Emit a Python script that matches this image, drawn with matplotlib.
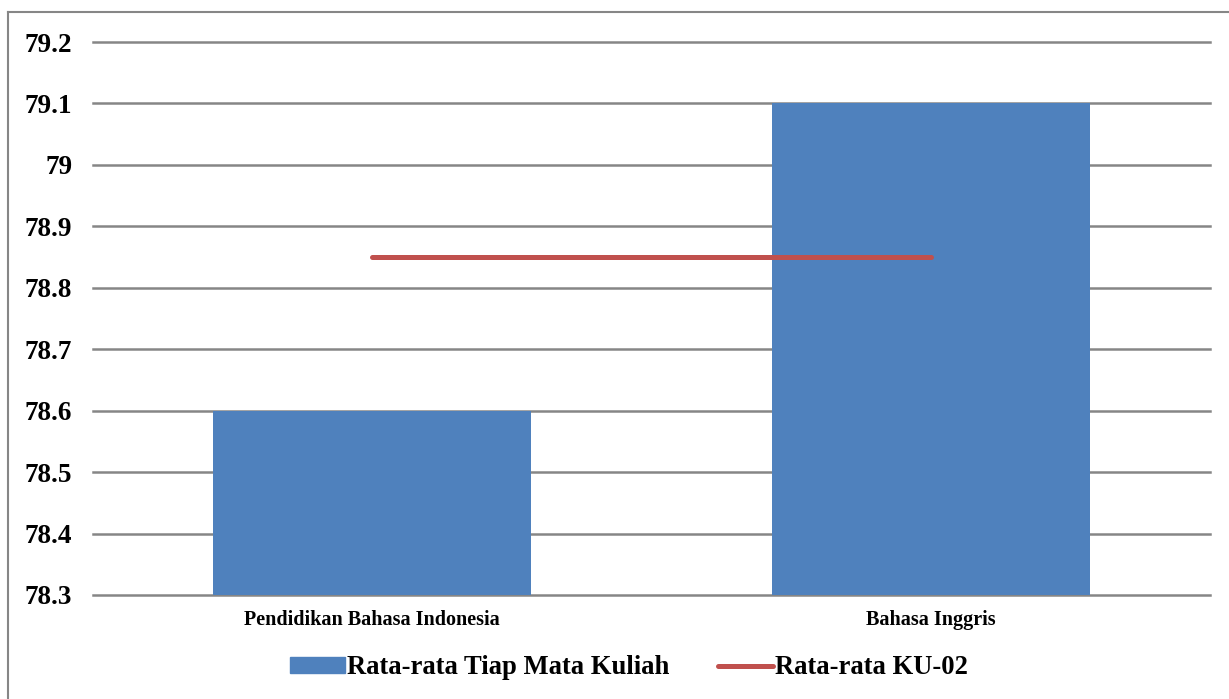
import matplotlib.pyplot as plt
import numpy as np
from matplotlib.lines import Line2D

plt.rcParams['font.family'] = 'Liberation Serif'
plt.rcParams['font.weight'] = 'bold'

categories = ['Pendidikan Bahasa Indonesia', 'Bahasa Inggris']
rata_mk = [78.6, 79.1]
rata_ku = [78.85, 78.85]
yticks = [78.3, 78.4, 78.5, 78.6, 78.7, 78.8, 78.9, 79, 79.1, 79.2]
ylabels = ['78.3', '78.4', '78.5', '78.6', '78.7', '78.8', '78.9', '79', '79.1', '79.2']

fig = plt.figure(figsize=(12.29, 6.99), dpi=100)
ax = fig.add_axes([93/1229, 1 - 595/699, (1210 - 93)/1229, (595 - 42)/699])

x = np.arange(len(categories))
ax.bar(x, np.array(rata_mk) - 78.3, bottom=78.3, width=0.57, color='#4F81BD', zorder=2,
       label='Rata-rata Tiap Mata Kuliah')
ax.plot(x, rata_ku, color='#C0504D', lw=3.6, solid_capstyle='round', zorder=3,
        label='Rata-rata KU-02')

ax.set_xlim(-0.5, 1.5)
ax.set_ylim(78.3, 79.2)
ax.set_yticks(yticks)
ax.set_yticklabels(ylabels, fontsize=19.5, fontweight='bold')
ax.set_xticks(x)
ax.set_xticklabels(categories, fontsize=14.5, fontweight='bold')
ax.tick_params(axis='both', length=0)
ax.tick_params(axis='y', pad=15)
ax.tick_params(axis='x', pad=11)
ax.yaxis.grid(True, color='#868686', lw=1.8, zorder=0)
for gl in ax.get_ygridlines():
    gl.set_clip_on(False)
for s in ax.spines.values():
    s.set_visible(False)

handles = [plt.Rectangle((0, 0), 1, 1, color='#4F81BD'),
           Line2D([0], [0], color='#C0504D', lw=3.6, solid_capstyle='round')]
fig.legend(handles, ['Rata-rata Tiap Mata Kuliah', 'Rata-rata KU-02'],
           loc='center', bbox_to_anchor=(629/1229, 1 - 668/699), ncol=2, frameon=False,
           prop={'size': 19.2, 'weight': 'bold'}, handlelength=2.06, handleheight=0.55,
           handletextpad=0.08, columnspacing=1.84)

# outer border of the chart area
fig.add_artist(Line2D([8/1229, 1], [1 - 12/699, 1 - 12/699], color='#868686', lw=1.5))
fig.add_artist(Line2D([8/1229, 8/1229], [0, 1 - 12/699], color='#868686', lw=1.5))

fig.savefig('out.png', dpi=100)
